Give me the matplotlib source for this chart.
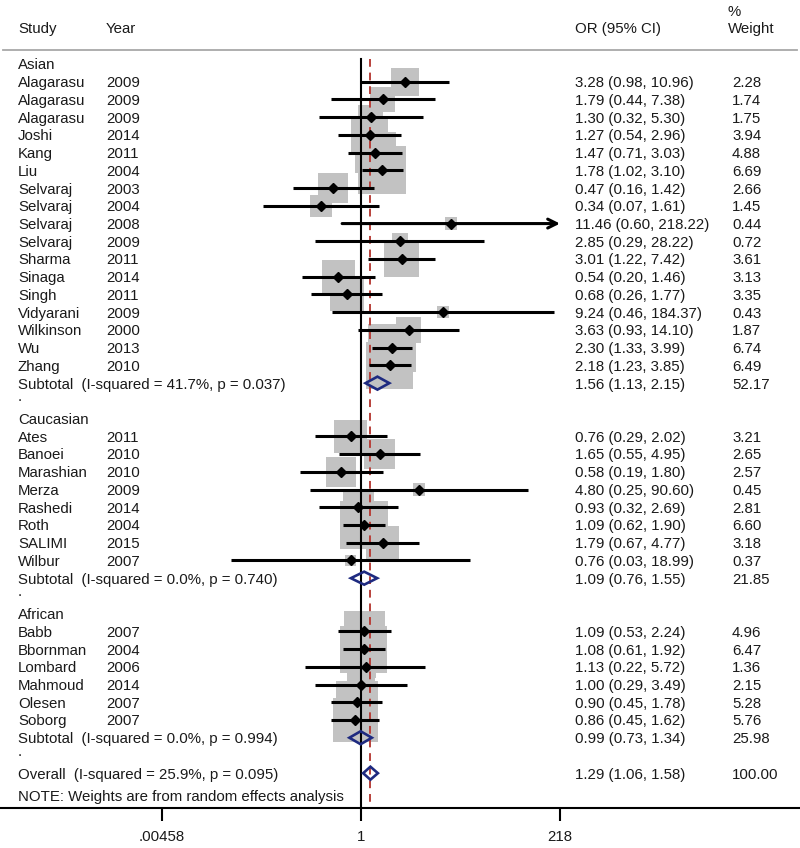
import numpy as np
import matplotlib
matplotlib.use("Agg")
import matplotlib.pyplot as plt
from matplotlib.patches import Polygon

plt.rcParams['font.family'] = ['Liberation Sans', 'DejaVu Sans']

# ---- data ----
group_names = ["Asian", "Caucasian", "African"]

asian_study = ["Alagarasu", "Alagarasu", "Alagarasu", "Joshi", "Kang", "Liu", "Selvaraj", "Selvaraj",
               "Selvaraj", "Selvaraj", "Sharma", "Sinaga", "Singh", "Vidyarani", "Wilkinson", "Wu", "Zhang"]
asian_year = [2009, 2009, 2009, 2014, 2011, 2004, 2003, 2004, 2008, 2009, 2011, 2014, 2011, 2009, 2000, 2013, 2010]
asian_or = [3.28, 1.79, 1.30, 1.27, 1.47, 1.78, 0.47, 0.34, 11.46, 2.85, 3.01, 0.54, 0.68, 9.24, 3.63, 2.30, 2.18]
asian_lo = [0.98, 0.44, 0.32, 0.54, 0.71, 1.02, 0.16, 0.07, 0.60, 0.29, 1.22, 0.20, 0.26, 0.46, 0.93, 1.33, 1.23]
asian_hi = [10.96, 7.38, 5.30, 2.96, 3.03, 3.10, 1.42, 1.61, 218.22, 28.22, 7.42, 1.46, 1.77, 184.37, 14.10, 3.99, 3.85]
asian_w = [2.28, 1.74, 1.75, 3.94, 4.88, 6.69, 2.66, 1.45, 0.44, 0.72, 3.61, 3.13, 3.35, 0.43, 1.87, 6.74, 6.49]

cauc_study = ["Ates", "Banoei", "Marashian", "Merza", "Rashedi", "Roth", "SALIMI", "Wilbur"]
cauc_year = [2011, 2010, 2010, 2009, 2014, 2004, 2015, 2007]
cauc_or = [0.76, 1.65, 0.58, 4.80, 0.93, 1.09, 1.79, 0.76]
cauc_lo = [0.29, 0.55, 0.19, 0.25, 0.32, 0.62, 0.67, 0.03]
cauc_hi = [2.02, 4.95, 1.80, 90.60, 2.69, 1.90, 4.77, 18.99]
cauc_w = [3.21, 2.65, 2.57, 0.45, 2.81, 6.60, 3.18, 0.37]

afr_study = ["Babb", "Bbornman", "Lombard", "Mahmoud", "Olesen", "Soborg"]
afr_year = [2007, 2004, 2006, 2014, 2007, 2007]
afr_or = [1.09, 1.08, 1.13, 1.00, 0.90, 0.86]
afr_lo = [0.53, 0.61, 0.22, 0.29, 0.45, 0.45]
afr_hi = [2.24, 1.92, 5.72, 3.49, 1.78, 1.62]
afr_w = [4.96, 6.47, 1.36, 2.15, 5.28, 5.76]

sub_label = ["Subtotal  (I-squared = 41.7%, p = 0.037)",
             "Subtotal  (I-squared = 0.0%, p = 0.740)",
             "Subtotal  (I-squared = 0.0%, p = 0.994)"]
sub_or = [1.56, 1.09, 0.99]
sub_lo = [1.13, 0.76, 0.73]
sub_hi = [2.15, 1.55, 1.34]
sub_w = [52.17, 21.85, 25.98]

overall_label = "Overall  (I-squared = 25.9%, p = 0.095)"
overall_or, overall_lo, overall_hi, overall_w = 1.29, 1.06, 1.58, 100.00

tick_vals = [0.00458, 1, 218]
tick_labels = [".00458", "1", "218"]

groups = [
    (asian_study, asian_year, asian_or, asian_lo, asian_hi, asian_w),
    (cauc_study, cauc_year, cauc_or, cauc_lo, cauc_hi, cauc_w),
    (afr_study, afr_year, afr_or, afr_lo, afr_hi, afr_w),
]

# ---- layout ----
W, H = 800, 848
ROW = 17.73          # pixels per row
PX_DEC = 85.1        # pixels per decade
X0 = 361             # pixel position of OR = 1
Y0 = 64              # pixel position of first row
AXIS_Y = 808         # pixel position of the x axis line

fig = plt.figure(figsize=(W / 100, H / 100), dpi=100)
ax = fig.add_axes([0, (H - AXIS_Y) / H, 1, AXIS_Y / H])
ax.set_xlim(-X0 / PX_DEC, (W - X0) / PX_DEC)
ax.set_ylim((AXIS_Y - Y0) / ROW, -Y0 / ROW)

def row_of(py):
    return (py - Y0) / ROW

xmax = np.log10(tick_vals[-1])
xmin = np.log10(tick_vals[0])
tf = ax.get_yaxis_transform()
fs = 10.8
tc = "#1a1a1a"
TOFF = 0.08          # small downward nudge for text
COL_STUDY, COL_YEAR, COL_OR, COL_W = 18 / W, 106 / W, 575 / W, 732 / W
box_col = "#c2c2c2"
navy = "#1e2a80"

def put(x, y, s):
    ax.text(x, y + TOFF, s, transform=tf, fontsize=fs, color=tc, va="center")

def or_text(o, l, h):
    return "%.2f (%.2f, %.2f)" % (o, l, h)

def diamond(y, o, l, h):
    hh = 6.5 / ROW
    pts = [(np.log10(l), y), (np.log10(o), y - hh), (np.log10(h), y), (np.log10(o), y + hh)]
    ax.add_patch(Polygon(pts, closed=True, fill=False, edgecolor=navy, lw=1.9, zorder=4))

# headers
put(COL_STUDY, row_of(28), "Study")
put(COL_YEAR, row_of(28), "Year")
put(COL_OR, row_of(28), "OR (95% CI)")
put(COL_W - 4 / W, row_of(11), "%")
put(COL_W - 4 / W, row_of(28), "Weight")
ax.plot([3 / W, 797 / W], [row_of(50)] * 2, transform=tf, color="#a8a8a8", lw=1.3, clip_on=False)

row = 0
for gi, (study, year, o, l, h, w) in enumerate(groups):
    put(COL_STUDY, row, group_names[gi])
    row += 1
    ys = np.arange(row, row + len(study))
    lo_log = np.log10(l)
    hi_log = np.log10(h)
    est_log = np.log10(o)
    sides = 18.5 * np.sqrt(np.array(w)) * 0.72
    ax.scatter(est_log, ys, s=sides ** 2, marker="s", color=box_col, edgecolors="none", zorder=1)
    for k in range(len(study)):
        y = ys[k]
        if hi_log[k] > xmax:
            ax.annotate("", xy=(xmax, y), xytext=(lo_log[k], y),
                        arrowprops=dict(arrowstyle="->", lw=2.2, color="black", mutation_scale=16,
                                        shrinkA=0, shrinkB=0), zorder=3)
        else:
            ax.plot([max(lo_log[k], xmin), hi_log[k]], [y, y], color="black", lw=2.2, zorder=3,
                    solid_capstyle="butt")
        put(COL_STUDY, y, study[k])
        put(COL_YEAR, y, str(year[k]))
        put(COL_OR, y, or_text(o[k], l[k], h[k]))
        put(COL_W, y, "%.2f" % w[k])
    ax.plot(est_log, ys, "D", color="black", ms=5.3, zorder=5)
    row += len(study)
    # subtotal
    put(COL_STUDY, row, sub_label[gi])
    put(COL_OR, row, or_text(sub_or[gi], sub_lo[gi], sub_hi[gi]))
    put(COL_W, row, "%.2f" % sub_w[gi])
    diamond(row, sub_or[gi], sub_lo[gi], sub_hi[gi])
    row += 1
    put(COL_STUDY, row - 0.3, ".")
    row += 1

# overall
put(COL_STUDY, row, overall_label)
put(COL_OR, row, or_text(overall_or, overall_lo, overall_hi))
put(COL_W, row, "%.2f" % overall_w)
diamond(row, overall_or, overall_lo, overall_hi)
put(COL_STUDY, row_of(796), "NOTE: Weights are from random effects analysis")

# reference lines
ybot = ax.get_ylim()[0]
ax.plot([0, 0], [row_of(59), ybot], color="black", lw=1.5, zorder=2)
ax.plot([np.log10(overall_or)] * 2, [row_of(59), ybot], color="#b8403a", lw=1.4,
        dashes=(4, 3), zorder=2)

# axis
for s in ["top", "left", "right"]:
    ax.spines[s].set_visible(False)
ax.spines["bottom"].set_linewidth(1.5)
ax.set_yticks([])
ax.set_xticks(np.log10(tick_vals))
ax.set_xticklabels(tick_labels, fontsize=fs, color=tc)
ax.tick_params(axis="x", direction="out", length=9.5, width=1.5, pad=6)

fig.savefig("out.png", dpi=100)
